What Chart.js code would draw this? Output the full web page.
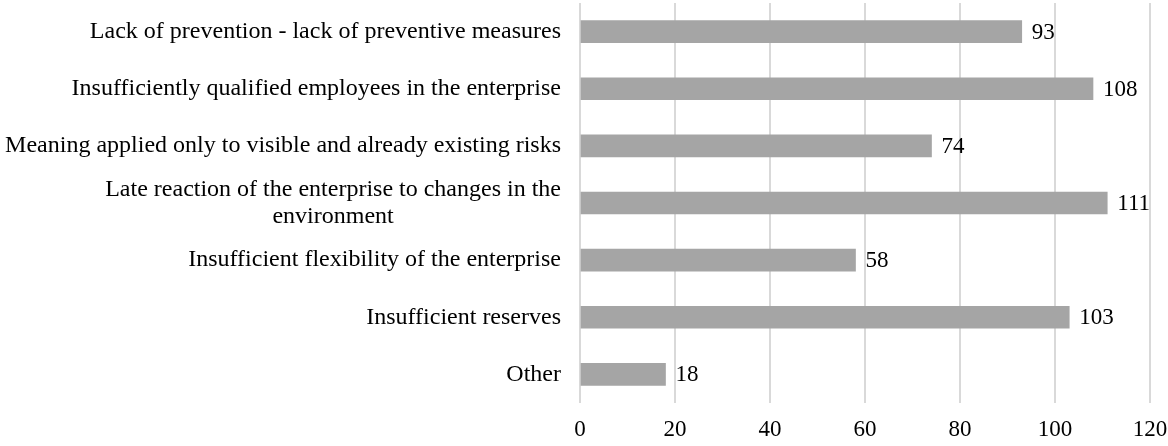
<!DOCTYPE html>
<html>
<head>
<meta charset="utf-8">
<script src="https://cdn.jsdelivr.net/npm/chart.js@4"></script>
<style>
  html, body { margin: 0; padding: 0; background: #fff; }
  #wrap { width: 1168px; height: 446px; position: relative; }
</style>
</head>
<body>
<div id="wrap"><canvas id="riskChart"></canvas></div>
<script>
// categories, top to bottom
const categories = [
    "Lack of prevention - lack of preventive measures",
    "Insufficiently qualified employees in the enterprise",
    "Meaning applied only to visible and already existing risks",
    ["Late reaction of the enterprise to changes in the", "environment"],
    "Insufficient flexibility of the enterprise",
    "Insufficient reserves",
    "Other"
];
const counts = [93, 108, 74, 111, 58, 103, 18];
const xTicks = [0, 20, 40, 60, 80, 100, 120];

const FONT = "'Liberation Serif', 'Times New Roman', serif";

// category labels drawn by hand (multi-line ones centred on their widest line, as in the original)
const categoryLabels = {
    id: "categoryLabels",
    afterDraw(chart) {
        const ctx = chart.ctx;
        const y = chart.scales.y;
        const right = chart.chartArea.left - 19;
        ctx.save();
        ctx.font = "24px " + FONT;
        ctx.fillStyle = "#000";
        ctx.textBaseline = "middle";
        ctx.textAlign = "center";
        categories.forEach((lbl, i) => {
            const lines = Array.isArray(lbl) ? lbl : [lbl];
            const w = Math.max(...lines.map(l => ctx.measureText(l).width));
            const cy = y.getPixelForValue(i);
            const lh = 27;
            lines.forEach((l, j) => {
                ctx.fillText(l, right - w / 2, cy + (j - (lines.length - 1) / 2) * lh);
            });
        });
        ctx.restore();
    }
};

// value labels at the end of each bar
const valueLabels = {
    id: "valueLabels",
    afterDatasetsDraw(chart) {
        const ctx = chart.ctx;
        const meta = chart.getDatasetMeta(0);
        ctx.save();
        ctx.font = "23px " + FONT;
        ctx.fillStyle = "#000";
        ctx.textBaseline = "middle";
        ctx.textAlign = "left";
        meta.data.forEach((bar, i) => {
            ctx.fillText(String(counts[i]), bar.x + 10, bar.y + 1);
        });
        ctx.restore();
    }
};

new Chart(document.getElementById("riskChart").getContext("2d"), {
    type: "bar",
    data: {
        labels: categories,
        datasets: [{
            data: counts,
            backgroundColor: "#a5a5a5",
            borderWidth: 0,
            barThickness: 22
        }]
    },
    options: {
        indexAxis: "y",
        responsive: true,
        maintainAspectRatio: false,
        animation: false,
        layout: { padding: { top: 3, right: 0, bottom: 0, left: 580 } },
        plugins: {
            legend: { display: false },
            tooltip: { enabled: false }
        },
        scales: {
            x: {
                min: 0,
                max: 120,
                afterBuildTicks: scale => { scale.ticks = xTicks.map(v => ({ value: v })); },
                afterFit: scale => {
                    scale.paddingLeft = 0;
                    scale.paddingRight = 18;
                    scale.height = 43;
                },
                grid: { color: "#d9d9d9", lineWidth: 2, drawTicks: false },
                border: { display: false },
                ticks: {
                    padding: 13,
                    color: "#000",
                    font: { family: FONT, size: 23 }
                }
            },
            y: {
                display: false
            }
        }
    },
    plugins: [categoryLabels, valueLabels]
});
</script>
</body>
</html>
